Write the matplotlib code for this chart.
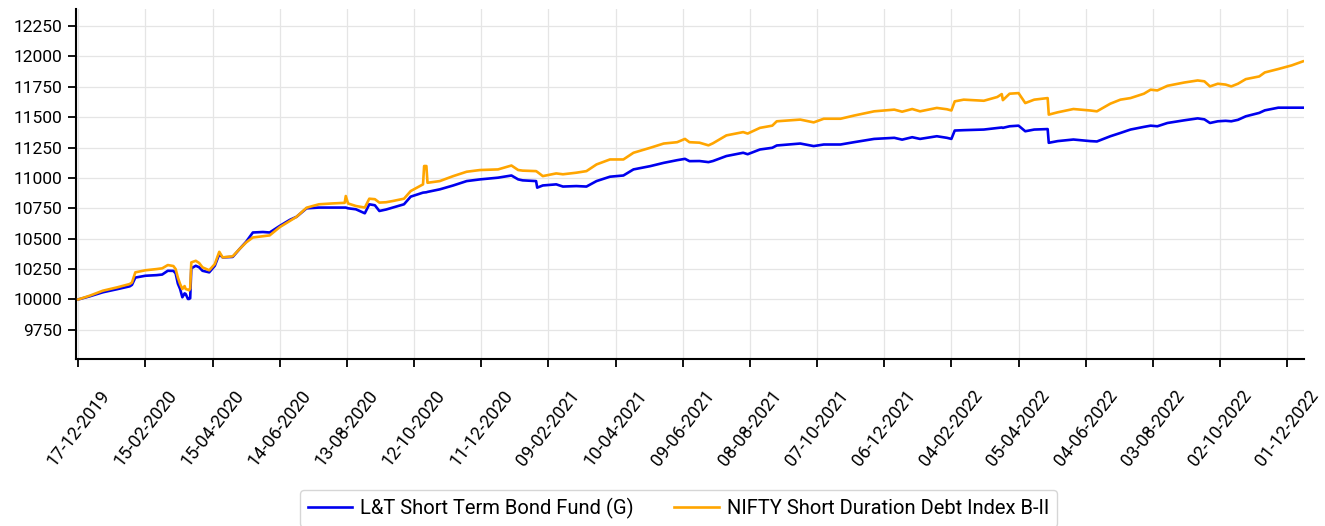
import matplotlib
matplotlib.use("Agg")
import matplotlib.pyplot as plt
import matplotlib.dates as mdates
import pandas as pd
import numpy as np

plt.rcParams['font.family'] = ['Roboto', 'DejaVu Sans']

dates = ["2019-12-17", "2019-12-27", "2020-01-08", "2020-01-21", "2020-02-01", "2020-02-03",
         "2020-02-06", "2020-02-15", "2020-02-25", "2020-03-01", "2020-03-06", "2020-03-11",
         "2020-03-13", "2020-03-15", "2020-03-17", "2020-03-19", "2020-03-21", "2020-03-22",
         "2020-03-24", "2020-03-25", "2020-03-26", "2020-03-27", "2020-03-31", "2020-04-03",
         "2020-04-06", "2020-04-12", "2020-04-17", "2020-04-21", "2020-04-24", "2020-05-03",
         "2020-05-09", "2020-05-15", "2020-05-21", "2020-05-30", "2020-06-05", "2020-06-14",
         "2020-06-23", "2020-06-29", "2020-07-08", "2020-07-19", "2020-07-31", "2020-08-11",
         "2020-08-12", "2020-08-14", "2020-08-21", "2020-08-29", "2020-09-02", "2020-09-07",
         "2020-09-11", "2020-09-17", "2020-09-23", "2020-10-03", "2020-10-09", "2020-10-20",
         "2020-10-21", "2020-10-23", "2020-10-24", "2020-11-04", "2020-11-16", "2020-11-28",
         "2020-12-10", "2020-12-26", "2021-01-07", "2021-01-13", "2021-01-17", "2021-01-29",
         "2021-01-30", "2021-02-04", "2021-02-16", "2021-02-22", "2021-03-06", "2021-03-15",
         "2021-03-24", "2021-04-05", "2021-04-17", "2021-04-26", "2021-05-11", "2021-05-23",
         "2021-06-04", "2021-06-11", "2021-06-15", "2021-06-24", "2021-07-02", "2021-07-06",
         "2021-07-18", "2021-08-02", "2021-08-06", "2021-08-17", "2021-08-28", "2021-09-01",
         "2021-09-22", "2021-10-04", "2021-10-13", "2021-10-28", "2021-11-09", "2021-11-27",
         "2021-12-15", "2021-12-22", "2021-12-31", "2022-01-07", "2022-01-22", "2022-01-31",
         "2022-02-04", "2022-02-07", "2022-02-15", "2022-03-05", "2022-03-17", "2022-03-21",
         "2022-03-22", "2022-03-28", "2022-04-05", "2022-04-11", "2022-04-19", "2022-05-01",
         "2022-05-02", "2022-05-10", "2022-05-24", "2022-06-08", "2022-06-14", "2022-06-26",
         "2022-07-05", "2022-07-14", "2022-07-26", "2022-08-01", "2022-08-07", "2022-08-16",
         "2022-08-31", "2022-09-12", "2022-09-18", "2022-09-23", "2022-09-30", "2022-10-07",
         "2022-10-12", "2022-10-18", "2022-10-25", "2022-11-06", "2022-11-11", "2022-11-23",
         "2022-12-05", "2022-12-15"]

fund = [10000, 10025, 10059, 10085, 10108, 10120,
        10180, 10195, 10200, 10205, 10236, 10235,
        10215, 10130, 10086, 10018, 10050, 10045,
        10004, 10004, 10010, 10256, 10277, 10265,
        10236, 10223, 10277, 10373, 10346, 10350,
        10414, 10475, 10551, 10555, 10551, 10605,
        10655, 10680, 10750, 10756, 10756, 10756,
        10756, 10750, 10742, 10709, 10783, 10775,
        10728, 10740, 10756, 10783, 10846, 10879,
        10880, 10882, 10885, 10906, 10938, 10974,
        10988, 11002, 11020, 10988, 10980, 10974,
        10920, 10938, 10947, 10929, 10933, 10929,
        10974, 11010, 11020, 11070, 11097, 11124,
        11146, 11157, 11138, 11139, 11130, 11139,
        11180, 11207, 11195, 11234, 11248, 11267,
        11283, 11262, 11275, 11275, 11294, 11321,
        11330, 11315, 11335, 11321, 11343, 11330,
        11321, 11390, 11393, 11398, 11411, 11415,
        11412, 11425, 11430, 11384, 11398, 11402,
        11289, 11303, 11316, 11303, 11300, 11343,
        11370, 11398, 11420, 11430, 11425, 11452,
        11474, 11490, 11482, 11452, 11466, 11470,
        11466, 11478, 11507, 11535, 11556, 11578,
        11578, 11578]

index = [10000, 10030, 10072, 10100, 10127, 10140,
         10223, 10240, 10250, 10256, 10283, 10275,
         10250, 10180, 10127, 10086, 10110, 10086,
         10080, 10075, 10090, 10305, 10318, 10300,
         10264, 10240, 10291, 10392, 10346, 10355,
         10414, 10469, 10510, 10520, 10527, 10595,
         10646, 10680, 10755, 10783, 10790, 10795,
         10851, 10790, 10769, 10756, 10829, 10825,
         10797, 10800, 10810, 10829, 10892, 10947,
         11098, 11098, 10960, 10974, 11015, 11051,
         11065, 11070, 11102, 11065, 11060, 11056,
         11050, 11015, 11037, 11030, 11043, 11056,
         11111, 11152, 11152, 11207, 11248, 11283,
         11294, 11321, 11294, 11290, 11268, 11285,
         11350, 11377, 11365, 11412, 11430, 11466,
         11480, 11457, 11487, 11487, 11513, 11548,
         11562, 11545, 11567, 11548, 11576, 11565,
         11555, 11630, 11644, 11635, 11666, 11690,
         11640, 11693, 11698, 11616, 11644, 11657,
         11521, 11540, 11567, 11555, 11548, 11611,
         11644, 11657, 11693, 11726, 11720, 11758,
         11785, 11802, 11795, 11753, 11775, 11768,
         11753, 11775, 11813, 11835, 11868, 11896,
         11926, 11959]

series_names = ["L&T Short Term Bond Fund (G)", "NIFTY Short Duration Debt Index B-II"]
series_colors = ["#0000ee", "#ffa500"]
y_ticks = [9750, 10000, 10250, 10500, 10750, 11000, 11250, 11500, 11750, 12000, 12250]
tick_start = "2019-12-17"
tick_end = "2022-12-01"

x = pd.to_datetime(dates)

fig = plt.figure(figsize=(13.25, 5.26), dpi=100)
ax = fig.add_axes([76/1325, 1-359/526, (1304-76)/1325, (359-9)/526])

ax.plot(x, fund, color=series_colors[0], lw=1.9, label=series_names[0], zorder=3)
ax.plot(x, index, color=series_colors[1], lw=1.9, label=series_names[1], zorder=3)

xt = pd.date_range(tick_start, tick_end, freq="60D")
ax.set_xticks(xt)
ax.xaxis.set_major_formatter(mdates.DateFormatter("%d-%m-%Y"))
ax.set_xlim(pd.Timestamp("2019-12-15"), pd.Timestamp("2022-12-16"))
ax.set_yticks(y_ticks)
ax.set_ylim(9510, 12390)

ax.tick_params(axis="both", labelsize=12.5, length=6, width=1.3, color="black", pad=4)
ax.tick_params(axis="x", pad=14, labelsize=13)
for lab in ax.get_xticklabels():
    lab.set_rotation(52)
    lab.set_ha("center")
    lab.set_va("top")

ax.grid(True, color="#e5e5e5", lw=0.9)
ax.set_axisbelow(True)
for s in ["top", "right"]:
    ax.spines[s].set_visible(False)
for s in ["left", "bottom"]:
    ax.spines[s].set_linewidth(1.5)
    ax.spines[s].set_color("black")

leg = fig.legend(loc="upper center", bbox_to_anchor=(678.5/1325, 1-490/526), ncol=2,
                 fontsize=14.5, frameon=True, handlelength=2.2, handletextpad=0.4,
                 columnspacing=2.0, borderpad=0.4, borderaxespad=0, fancybox=True)
leg.get_frame().set_edgecolor("#cccccc")
leg.get_frame().set_linewidth(1.0)

fig.savefig("out.png", dpi=100)
